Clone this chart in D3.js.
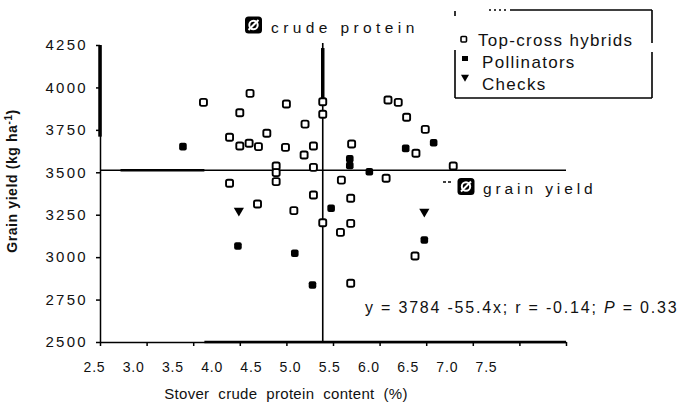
<!DOCTYPE html>
<html><head><meta charset="utf-8">
<script src="https://cdn.jsdelivr.net/npm/d3@7"></script>
<style>
body{margin:0;background:#fff}
svg{display:block;font-family:"Liberation Sans",Arial,sans-serif}
</style>
</head><body>
<svg id="c" width="680" height="405"></svg>
<script>
const xTicks=[2.5,3.0,3.5,4.0,4.5,5.0,5.5,6.0,6.5,7.0,7.5];
const yTicks=[2500,2750,3000,3250,3500,3750,4000,4250];
const hybridX=[3.61,4.11,4.00,4.50,4.70,4.89,4.89,4.29,3.89,4.00,4.10,4.20,4.49,4.69,4.79,4.39,4.79,4.39,4.39,5.59,5.70,5.79,5.99,5.89,5.20,6.29,5.09,5.57,5.19,4.89,5.19,5.08,5.88,5.19,3.89,4.19,4.58,4.79];
const hybridY=[3912,3965,3851,3902,3784,3916,3842,3730,3706,3655,3671,3651,3647,3602,3655,3537,3529,3498,3445,3926,3912,3824,3753,3612,3667,3537,3454,3465,3347,3203,3199,3146,3007,2846,3435,3313,3274,3366];
const pollX=[3.39,3.98,4.59,4.78,4.98,5.98,6.08,5.78,5.18,5.18,5.39];
const pollY=[3651,3066,3023,2836,3288,3101,3674,3641,3580,3540,3503];
const checkX=[3.99,5.98];
const checkY=[3274,3268];
const meanX=4.89, meanY=3512;
const legendLabels=["Top-cross hybrids","Pollinators","Checks"];
const equation="y = 3784 -55.4x; r = -0.14; ";

const svg=d3.select("#c");
const x=d3.scaleLinear().domain([2.5,7.5]).range([100,566]);
const xl=d3.scaleLinear().domain([2.5,7.5]).range([94,486]);
const y=d3.scaleLinear().domain([2500,4250]).range([342,45]);

// axes
const ya=svg.append("g").attr("transform","translate(100,0)")
  .call(d3.axisLeft(y).tickValues(yTicks).tickSize(4).tickSizeOuter(0).tickPadding(8).tickFormat(d3.format("d")));
ya.selectAll("text").attr("font-size",15).attr("letter-spacing",2.3).attr("fill","#111").attr("font-family","Liberation Sans, Arial");
ya.selectAll("line,path").attr("stroke","#000").attr("stroke-width",1.5);

const xa=svg.append("g").attr("transform","translate(0,342)")
  .call(d3.axisBottom(x).tickValues(xTicks).tickSize(4).tickSizeOuter(0).tickFormat(""));
xa.selectAll("line,path").attr("stroke","#000").attr("stroke-width",1.5);
const xla=svg.append("g").attr("transform","translate(0,342)")
  .call(d3.axisBottom(xl).tickValues(xTicks).tickSize(0).tickPadding(20).tickFormat(d3.format(".1f")));
xla.select(".domain").remove();
xla.selectAll("text").attr("font-size",14).attr("letter-spacing",0.8).attr("fill","#111").attr("font-family","Liberation Sans, Arial");

// scan-like thick segments
const thick=[[x(2.5),y(4250),x(2.5),y(3710),3.5],[x(meanX),y(4232),x(meanX),y(3926),3.5],[x(2.72),y(meanY),x(3.62),y(meanY),2.6],[x(3.62),y(2500),x(7.5),y(2500),2.6]];
svg.selectAll(".thick").data(thick).join("line").attr("class","thick")
  .attr("x1",d=>d[0]).attr("y1",d=>d[1]).attr("x2",d=>d[2]).attr("y2",d=>d[3])
  .attr("stroke","#000").attr("stroke-width",d=>d[4]);

// mean reference lines
svg.append("line").attr("x1",x(2.5)).attr("x2",x(7.5)).attr("y1",y(meanY)).attr("y2",y(meanY)).attr("stroke","#000").attr("stroke-width",1.6);
svg.append("line").attr("x1",x(meanX)).attr("x2",x(meanX)).attr("y1",y(4262)).attr("y2",y(2500)).attr("stroke","#000").attr("stroke-width",1.6);

// points
const hyb=hybridX.map((v,i)=>[v,hybridY[i]]);
const pol=pollX.map((v,i)=>[v,pollY[i]]);
const chk=checkX.map((v,i)=>[v,checkY[i]]);
svg.selectAll(".hyb").data(hyb).join("rect").attr("class","hyb")
  .attr("x",d=>x(d[0])-3.5).attr("y",d=>y(d[1])-3.5).attr("width",7).attr("height",7).attr("rx",1.8)
  .attr("fill","#fff").attr("stroke","#000").attr("stroke-width",1.9);
svg.selectAll(".pol").data(pol).join("rect").attr("class","pol")
  .attr("x",d=>x(d[0])-3.8).attr("y",d=>y(d[1])-3.8).attr("width",7.6).attr("height",7.6).attr("rx",2)
  .attr("fill","#000");
const tri=d3.symbol().type(d3.symbolTriangle).size(45);
svg.selectAll(".chk").data(chk).join("path").attr("class","chk")
  .attr("transform",d=>`translate(${x(d[0])},${y(d[1])}) rotate(180)`).attr("d",tri).attr("fill","#000");

// diameter symbols
function diam(cx,cy){
  const g=svg.append("g").attr("transform",`translate(${cx},${cy})`);
  g.append("rect").attr("x",-8.5).attr("y",-8.5).attr("width",17).attr("height",17).attr("rx",3.5).attr("fill","#000");
  g.append("circle").attr("r",4.2).attr("fill","none").attr("stroke","#fff").attr("stroke-width",2);
  g.append("line").attr("x1",-5).attr("y1",5).attr("x2",5).attr("y2",-5).attr("stroke","#fff").attr("stroke-width",2);
}
diam(253.5,25);
svg.append("text").attr("x",271).attr("y",33).attr("font-size",15.5).attr("letter-spacing",4.4).attr("fill","#111").text("crude protein");
diam(466,186.5);
svg.append("text").attr("x",483).attr("y",194).attr("font-size",15.5).attr("letter-spacing",3.9).attr("fill","#111").text("grain yield");
svg.append("line").attr("x1",443).attr("x2",452).attr("y1",182).attr("y2",182).attr("stroke","#000").attr("stroke-width",1.4).attr("stroke-dasharray","3,2");

// legend box
const lb=[[510,10,652,10],[652,10,652,43],[652,52,652,98],[455,98,652,98],[455,50,455,98],[455,11,455,16]];
svg.selectAll(".lb").data(lb).join("line").attr("class","lb")
  .attr("x1",d=>d[0]).attr("y1",d=>d[1]).attr("x2",d=>d[2]).attr("y2",d=>d[3]).attr("stroke","#000").attr("stroke-width",1.6);
svg.append("line").attr("x1",489).attr("x2",509).attr("y1",10).attr("y2",10).attr("stroke","#000").attr("stroke-width",1.4).attr("stroke-dasharray","2,3");
const lx=[478,482,482], ly=[46,68,90];
svg.selectAll(".lt").data(legendLabels).join("text").attr("class","lt")
  .attr("x",(d,i)=>lx[i]).attr("y",(d,i)=>ly[i]).attr("font-size",17).attr("letter-spacing",1.3).attr("fill","#111").text(d=>d);
svg.append("rect").attr("x",461).attr("y",36.5).attr("width",5.5).attr("height",5.5).attr("rx",1).attr("fill","#fff").attr("stroke","#000").attr("stroke-width",1.6);
svg.append("rect").attr("x",462).attr("y",56).attr("width",6).attr("height",5).attr("fill","#000");
svg.append("path").attr("transform","translate(465,77) rotate(180)").attr("d",d3.symbol().type(d3.symbolTriangle).size(28)).attr("fill","#000");

// equation
const eq=svg.append("text").attr("x",365).attr("y",313).attr("font-size",16).attr("letter-spacing",1.8).attr("fill","#111");
eq.append("tspan").text(equation);
eq.append("tspan").attr("font-style","italic").text("P");
eq.append("tspan").text(" = 0.33");

// axis titles
svg.append("text").attr("x",286).attr("y",399).attr("text-anchor","middle").attr("font-size",15).attr("letter-spacing",0.3).attr("word-spacing",4.5).attr("fill","#111").text("Stover crude protein content (%)");
const yt=svg.append("text").attr("transform","translate(17,181) rotate(-90)").attr("text-anchor","middle").attr("font-size",14).attr("font-weight","bold").attr("letter-spacing",0.6).attr("fill","#111");
yt.append("tspan").text("Grain yield (kg ha");
yt.append("tspan").attr("dy",-5).attr("font-size",10).text("-1");
yt.append("tspan").attr("dy",5).text(")");
</script>
</body></html>
